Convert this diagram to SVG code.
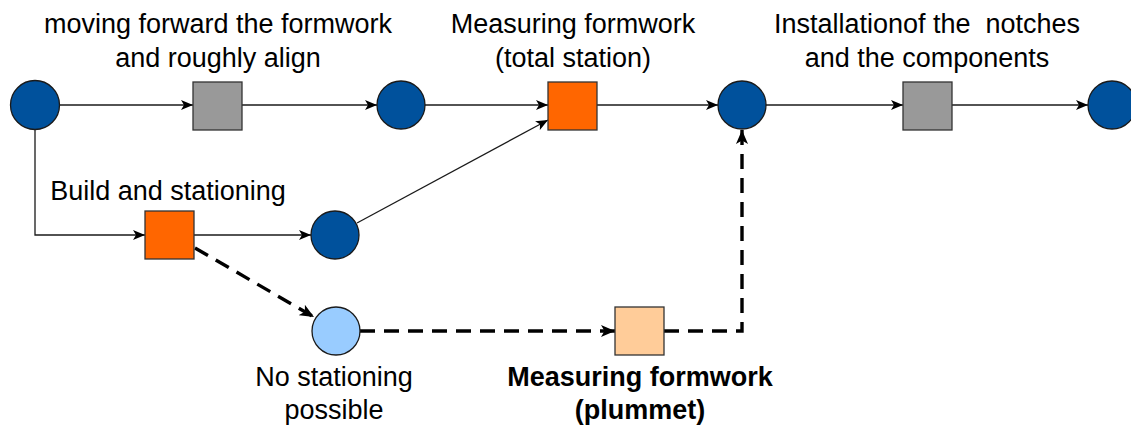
<svg xmlns="http://www.w3.org/2000/svg" width="1131" height="426" viewBox="0 0 1131 426">
<style>
.lbl{font-family:"Liberation Sans",Arial,sans-serif;font-size:27px;fill:#000;text-anchor:middle;white-space:pre}
.b{font-weight:bold}
.place{stroke:#1a1a1a;stroke-width:1.3}
.dark{fill:#00519C}
.light{fill:#99CCFF}
.tr{stroke:#333;stroke-width:1.3}
.thin{fill:none;stroke:#1a1a1a;stroke-width:1.3}
.dash{fill:none;stroke:#000;stroke-width:3.4;stroke-dasharray:15 9}
</style>
<defs>
<marker id="a" viewBox="0 0 12 10" refX="12" refY="5" markerWidth="12" markerHeight="10" markerUnits="userSpaceOnUse" orient="auto">
<path d="M0,0 L12,5 L0,10 L3,5 Z" fill="#000"/>
</marker>
<marker id="ad" viewBox="0 0 14 12" refX="14" refY="6" markerWidth="14" markerHeight="12" markerUnits="userSpaceOnUse" orient="auto">
<path d="M0,0 L14,6 L0,12 L3.5,6 Z" fill="#000"/>
</marker>
</defs>
<rect width="1131" height="426" fill="#fff"/>
<g id="connectors">
<line class="thin" x1="59.5" y1="105" x2="193" y2="105" marker-end="url(#a)"/>
<line class="thin" x1="242" y1="105" x2="377" y2="105" marker-end="url(#a)"/>
<line class="thin" x1="425" y1="105" x2="548" y2="105" marker-end="url(#a)"/>
<line class="thin" x1="597" y1="105" x2="718" y2="105" marker-end="url(#a)"/>
<line class="thin" x1="766" y1="105" x2="903" y2="105" marker-end="url(#a)"/>
<line class="thin" x1="952" y1="105" x2="1088" y2="105" marker-end="url(#a)"/>
<polyline class="thin" points="35,129.5 35,235 145,235" marker-end="url(#a)"/>
<line class="thin" x1="194" y1="235" x2="311" y2="235" marker-end="url(#a)"/>
<line class="thin" x1="357" y1="223" x2="548" y2="120" marker-end="url(#a)"/>
<line class="dash" x1="195" y1="248" x2="314" y2="317" marker-end="url(#ad)"/>
<line class="dash" x1="360" y1="331" x2="615" y2="331" marker-end="url(#ad)"/>
<polyline class="dash" points="664,331 742,331 742,130" marker-end="url(#ad)"/>
</g>
<g id="p1"><circle class="place dark" cx="35" cy="105" r="24.5"/></g>
<g id="t1"><rect class="tr" x="193" y="82" width="49" height="48" fill="#999999"/>
<text class="lbl" x="218" y="33">moving forward the formwork</text>
<text class="lbl" x="218" y="67">and roughly align</text></g>
<g id="p2"><circle class="place dark" cx="401" cy="105" r="24"/></g>
<g id="t2"><rect class="tr" x="548" y="82" width="49" height="48" fill="#FF6600"/>
<text class="lbl" x="573" y="33">Measuring formwork</text>
<text class="lbl" x="573" y="67">(total station)</text></g>
<g id="p3"><circle class="place dark" cx="742" cy="105" r="24"/></g>
<g id="t3"><rect class="tr" x="903" y="82" width="49" height="48" fill="#999999"/>
<text class="lbl" x="927" y="33">Installationof the  notches</text>
<text class="lbl" x="927" y="67">and the components</text></g>
<g id="p4"><circle class="place dark" cx="1112" cy="105" r="24"/></g>
<g id="t4"><rect class="tr" x="145" y="211" width="49" height="48" fill="#FF6600"/>
<text class="lbl" x="168" y="200">Build and stationing</text></g>
<g id="p5"><circle class="place dark" cx="335" cy="235" r="24"/></g>
<g id="p6"><circle class="place light" cx="336" cy="331" r="24"/>
<text class="lbl" x="334" y="386">No stationing</text>
<text class="lbl" x="334" y="419">possible</text></g>
<g id="t5"><rect class="tr" x="615" y="307" width="49" height="48" fill="#FFCC99"/>
<text class="lbl b" x="640" y="386">Measuring formwork</text>
<text class="lbl b" x="640" y="419">(plummet)</text></g>
</svg>
